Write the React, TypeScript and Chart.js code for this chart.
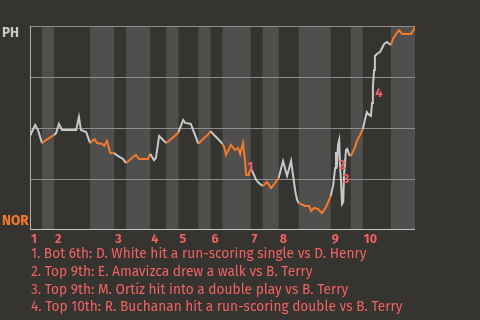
import React, { useEffect, useRef } from "react";
import { Chart, registerables } from "chart.js";

Chart.register(...registerables);

// plays per half-inning (top 1st, bottom 1st, top 2nd, ...)
const halfPlays = [3, 3, 9, 6, 3, 6, 4, 3, 5, 3, 3, 7, 3, 4, 5, 8, 5, 3, 7, 6];
const inningLabels = ["1", "2", "3", "4", "5", "6", "7", "8", "9", "10"];

// game progress (play number) and PH win probability (%)
const playX = [
  0, 1.3, 2.0, 3, 4.0, 6, 6.5, 7.2, 8.0, 10, 11.5, 12.2, 12.7, 14.0, 15,
  16.1, 16.7, 18.0, 18.5, 19.2, 20.0, 20.7, 21, 21.9, 23.2, 24, 25.4, 26.4,
  27.2, 29.4, 30, 30.9, 31.4, 32.2, 32.7, 34, 35.2, 36.9, 37, 38.2, 38.7,
  40.1, 42, 43.1, 44.6, 45, 45.9, 46.9, 48, 48.4, 48.9, 50.1, 51.1, 51.9,
  52.4, 53.1, 53.6, 53.9, 54.4, 54.6, 55, 55.4, 56.4, 57.1, 58, 59.1, 60.1,
  61.1, 62, 63.1, 64.1, 65.1, 66.1, 66.6, 67, 68.6, 69.6, 70.1, 70.8, 71.8,
  72.8, 73.8, 74.8, 75, 75.6, 76.1, 76.3, 76.6, 76.8, 77.1, 77.3, 77.6, 77.8,
  78.1, 78.3, 78.6, 78.8, 79.1, 79.6, 80, 81.0, 81.5, 82.3, 83, 83.5, 84.0,
  84.3, 85.0, 85.3, 85.5, 85.8, 86.0, 86.5, 87.3, 87.8, 88.3, 89.0, 90, 90.5,
  91.3, 92.0, 92.8, 95.0, 95.8, 96,
];
const winProbPH = [
  46.1, 51.5, 49.0, 42.6, 44.1, 46.6, 47.5, 52.0, 49.0, 49.0, 49.0, 55.4,
  49.0, 48.0, 42.6, 44.6, 42.6, 42.2, 41.2, 43.6, 37.7, 37.7, 37.7, 36.3,
  34.8, 32.8, 35.3, 36.8, 34.8, 34.8, 37.3, 34.3, 35.3, 46.1, 45.1, 42.6,
  44.6, 47.5, 48.0, 53.9, 52.5, 52.0, 42.2, 44.6, 47.1, 48.5, 46.6, 44.6,
  42.2, 40.7, 36.8, 41.7, 39.2, 40.2, 37.3, 42.6, 34.3, 27.0, 27.0, 27.9,
  29.9, 28.9, 24.5, 23.0, 21.6, 23.5, 20.6, 23.0, 25.5, 33.8, 26.5, 33.8,
  19.6, 14.7, 13.2, 11.8, 11.8, 9.3, 10.8, 10.3, 8.3, 11.3, 15.7, 16.7, 22.1,
  30.4, 38.2, 34.3, 41.7, 44.1, 31.9, 22.1, 12.7, 13.7, 27.0, 34.3, 39.2,
  39.7, 36.8, 36.3, 40.2, 43.6, 46.6, 49.5, 53.9, 57.8, 56.9, 55.9, 62.3,
  70.1, 78.4, 85.3, 86.3, 87.3, 89.2, 91.2, 92.2, 90.7, 93.6, 96.1, 98.0,
  96.1, 96.1, 98.5, 100,
];

// key-play annotations
const annoLabels = ["1", "2", "3", "4"];
const annoX = [54.9, 77.8, 78.8, 87.0];
const annoY = [30.9, 31.9, 25.0, 67.2];
const annoTexts = [
  "1. Bot 6th: D. White hit a run-scoring single vs D. Henry",
  "2. Top 9th: E. Amavizca drew a walk vs B. Terry",
  "3. Top 9th: M. Ortíz hit into a double play vs B. Terry",
  "4. Top 10th: R. Buchanan hit a run-scoring double vs B. Terry",
];
const teamTop = "PH";
const teamBottom = "NOR";
const gridValues = [25, 50, 75, 100];

const BG = "#363430";
const BAND = "#504f4d";
const GRAY_LINE = "#c8c8c8";
const ORANGE = "#f27a2a";
const RED = "#f06262";

const boundaries: number[] = [0];
halfPlays.forEach((p, i) => boundaries.push(boundaries[i] + p));
const totalPlays = boundaries[boundaries.length - 1];

function halfIndex(x: number) {
  for (let i = 0; i < halfPlays.length; i++) {
    if (x >= boundaries[i] - 1e-6 && x < boundaries[i + 1] - 1e-6) return i;
  }
  return halfPlays.length - 1;
}

const FONT = "'Fira Sans', Roboto, 'DejaVu Sans', sans-serif";

export default function App() {
  const ref = useRef<HTMLCanvasElement>(null);
  useEffect(() => {
    if (!ref.current) return;
    const decor = {
      id: "decor",
      beforeDatasetsDraw(chart: any) {
        const { ctx, chartArea: a, scales } = chart;
        const xs = scales.x;
        const ys = scales.y;
        ctx.save();
        for (let i = 1; i < halfPlays.length; i += 2) {
          const x0 = xs.getPixelForValue(boundaries[i]);
          const x1 = xs.getPixelForValue(boundaries[i + 1]);
          ctx.fillStyle = BAND;
          ctx.fillRect(x0, a.top, x1 - x0, a.bottom - a.top);
        }
        ctx.strokeStyle = "#8e8d8b";
        ctx.lineWidth = 1;
        gridValues.forEach((v) => {
          const y = Math.round(ys.getPixelForValue(v)) + 0.5;
          ctx.beginPath();
          ctx.moveTo(a.left, y);
          ctx.lineTo(a.right, y);
          ctx.stroke();
        });
        ctx.strokeStyle = "#c4c4c4";
        const yb = Math.round(ys.getPixelForValue(0)) - 0.5;
        ctx.beginPath();
        ctx.moveTo(a.left, yb);
        ctx.lineTo(a.right, yb);
        ctx.stroke();
        ctx.strokeStyle = "#b0b0b0";
        const xl = Math.round(a.left) + 0.5;
        ctx.beginPath();
        ctx.moveTo(xl, ys.getPixelForValue(100));
        ctx.lineTo(xl, ys.getPixelForValue(0));
        ctx.stroke();
        ctx.restore();
      },
      afterDatasetsDraw(chart: any) {
        const { ctx, chartArea: a, scales } = chart;
        const xs = scales.x;
        const ys = scales.y;
        ctx.save();
        ctx.fillStyle = RED;
        ctx.font = `bold 13px ${FONT}`;
        ctx.textAlign = "center";
        ctx.textBaseline = "middle";
        annoLabels.forEach((t, i) => {
          ctx.fillText(t, xs.getPixelForValue(annoX[i]), ys.getPixelForValue(annoY[i]));
        });
        ctx.font = `bold 12.5px ${FONT}`;
        ctx.textAlign = "left";
        inningLabels.forEach((t, i) => {
          ctx.fillText(t, xs.getPixelForValue(boundaries[i * 2]) + 1, a.bottom + 10);
        });
        ctx.font = `bold 13.5px ${FONT}`;
        ctx.fillStyle = "#c8c8c8";
        ctx.fillText(teamTop, 2, ys.getPixelForValue(100) + 7);
        ctx.fillStyle = ORANGE;
        ctx.fillText(teamBottom, 2, ys.getPixelForValue(0) - 9);
        ctx.restore();
      },
    };
    const chart = new Chart(ref.current, {
      type: "line",
      data: {
        datasets: [
          {
            data: playX.map((x, i) => ({ x, y: winProbPH[i] })),
            borderColor: GRAY_LINE,
            borderWidth: 2,
            pointRadius: 0,
            tension: 0,
            segment: {
              borderColor: (c: any) => (halfIndex(c.p0.parsed.x) % 2 === 1 ? ORANGE : GRAY_LINE),
            },
          },
        ],
      },
      options: {
        animation: false,
        responsive: false,
        maintainAspectRatio: false,
        layout: { padding: { left: 30, top: 26, right: 65, bottom: 20 } },
        scales: {
          x: { type: "linear", min: 0, max: totalPlays, display: false },
          y: { min: 0, max: 100, display: false },
        },
        plugins: { legend: { display: false }, tooltip: { enabled: false } },
      },
      plugins: [decor],
    } as any);
    return () => chart.destroy();
  }, []);

  return (
    <div
      style={{
        position: "fixed",
        left: 0,
        top: 0,
        width: 480,
        height: 320,
        background: BG,
        overflow: "hidden",
      }}
    >
      <canvas ref={ref} width={480} height={250} style={{ display: "block", width: 480, height: 250 }} />
      <div
        style={{
          position: "absolute",
          left: 31,
          top: 245,
          color: RED,
          font: `13.7px ${FONT}`,
          lineHeight: "17.8px",
          whiteSpace: "nowrap",
        }}
      >
        {annoTexts.map((t) => (
          <div key={t}>{t}</div>
        ))}
      </div>
    </div>
  );
}
